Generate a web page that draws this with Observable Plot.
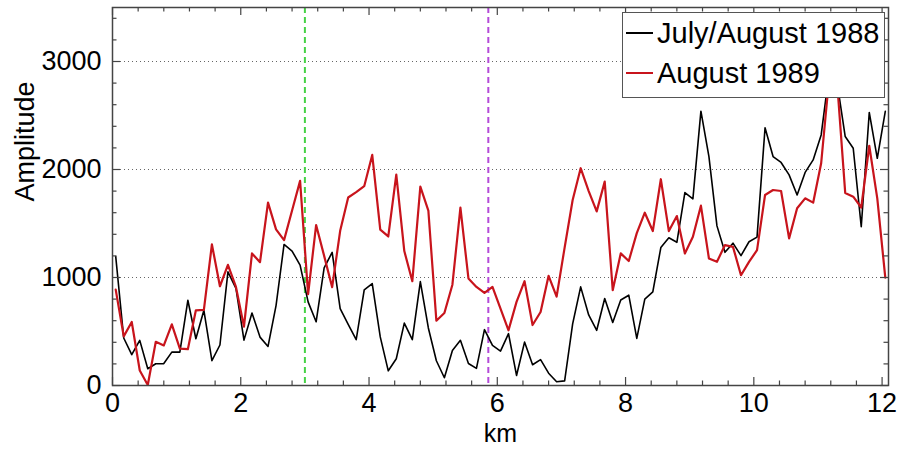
<!DOCTYPE html>
<html>
<head>
<meta charset="utf-8">
<script src="https://cdn.jsdelivr.net/npm/d3@7"></script>
<script src="https://cdn.jsdelivr.net/npm/@observablehq/plot@0.6"></script>
<style>
  html, body { margin: 0; padding: 0; background: #fff; }
  #wrap { position: relative; width: 900px; height: 455px; }
  #legend {
    position: absolute; left: 622px; top: 12px; width: 263px; height: 86px;
    background: #fff; border: 1.5px solid #555; box-sizing: border-box;
    font-family: "Liberation Sans", Arial, sans-serif;
    font-size: 29px; color: #000;
  }
  #legend .row { position: absolute; left: 3px; height: 34px; line-height: 34px;
                 display: flex; align-items: center; white-space: nowrap; }
  #legend .sw { display: inline-block; width: 27px; height: 0; border-top-width: 2px;
                border-top-style: solid; margin-right: 4px; }
</style>
</head>
<body>
<div id="wrap"></div>
<script>
// sample positions along the transect (km)
const km = [
  0.05, 0.175, 0.3, 0.425, 0.55, 0.675, 0.8, 0.925,
  1.05, 1.175, 1.3, 1.425, 1.55, 1.675, 1.8, 1.925,
  2.05, 2.175, 2.3, 2.425, 2.55, 2.675, 2.8, 2.925,
  3.05, 3.175, 3.3, 3.425, 3.55, 3.675, 3.8, 3.925,
  4.05, 4.175, 4.3, 4.425, 4.55, 4.675, 4.8, 4.925,
  5.05, 5.175, 5.3, 5.425, 5.55, 5.675, 5.8, 5.925,
  6.05, 6.175, 6.3, 6.425, 6.55, 6.675, 6.8, 6.925,
  7.05, 7.175, 7.3, 7.425, 7.55, 7.675, 7.8, 7.925,
  8.05, 8.175, 8.3, 8.425, 8.55, 8.675, 8.8, 8.925,
  9.05, 9.175, 9.3, 9.425, 9.55, 9.675, 9.8, 9.925,
  10.05, 10.175, 10.3, 10.425, 10.55, 10.675, 10.8, 10.925,
  11.05, 11.175, 11.3, 11.425, 11.55, 11.675, 11.8, 11.925,
  12.05
];

// July/August 1988 (black)
const amp1988 = [
  1195, 440, 285, 418, 155, 201, 203, 309,
  309, 789, 433, 696, 230, 375, 1052, 900,
  420, 671, 448, 362, 740, 1306, 1245, 1114,
  774, 590, 1090, 1233, 712, 565, 424, 885,
  944, 450, 136, 248, 578, 424, 962, 533,
  229, 72, 325, 418, 204, 158, 517, 371,
  318, 480, 93, 402, 192, 240, 114, 35,
  43, 570, 913, 653, 511, 805, 583, 792,
  836, 436, 800, 866, 1277, 1368, 1326, 1786,
  1728, 2540, 2120, 1478, 1233, 1318, 1203, 1331,
  1374, 2386, 2120, 2065, 1950, 1764, 1973, 2089,
  2320, 2900, 2800, 2305, 2197, 1470, 2528, 2104,
  2538
];

// August 1989 (red)
const amp1989 = [
  888, 455, 588, 139, 5, 405, 371, 566,
  341, 336, 696, 700, 1306, 919, 1117, 913,
  545, 1223, 1142, 1693, 1446, 1346, 1620, 1895,
  845, 1486, 1200, 910, 1432, 1741, 1790, 1845,
  2135, 1443, 1380, 1953, 1245, 966, 1841, 1620,
  600, 671, 933, 1648, 991, 913, 857, 913,
  712, 511, 774, 966, 560, 681, 1016, 823,
  1277, 1718, 2012, 1800, 1612, 1888, 882, 1223,
  1153, 1411, 1600, 1430, 1910, 1430, 1569, 1223,
  1377, 1665, 1176, 1145, 1300, 1284, 1021, 1145,
  1253, 1764, 1810, 1801, 1362, 1641, 1733, 1693,
  2058, 2850, 2800, 1783, 1748, 1648, 2220, 1733,
  998
];

const seriesNames = ["July/August 1988", "August 1989"];
const seriesColors = ["#000000", "#c8141c"];

const xMajor = [0, 2, 4, 6, 8, 10, 12];
const xMinor = [0.4, 0.8, 1.2, 1.6, 2.4, 2.8, 3.2, 3.6, 4.4, 4.8, 5.2, 5.6, 6.4, 6.8, 7.2, 7.6,
                8.4, 8.8, 9.2, 9.6, 10.4, 10.8, 11.2, 11.6];
const yMajor = [0, 1000, 2000, 3000];
const yMinor = [200, 400, 600, 800, 1200, 1400, 1600, 1800, 2200, 2400, 2600, 2800, 3200, 3400];
const gridY = [1000, 2000, 3000];
const markerKm = [3.0, 5.86];
const markerColors = ["#46d246", "#b44ad8"];

const rows1988 = km.map((k, i) => ({km: k, v: amp1988[i]}));
const rows1989 = km.map((k, i) => ({km: k, v: amp1989[i]}));

const W = 900, H = 455, mL = 112, mR = 12, mT = 7, mB = 70;
const innerW = W - mL - mR, innerH = H - mT - mB;
const tickCol = "#444";
const font = "'Liberation Sans', Arial, sans-serif";

const chart = Plot.plot({
  width: W, height: H,
  marginLeft: mL, marginRight: mR, marginTop: mT, marginBottom: mB,
  x: {domain: [0, 12.1]},
  y: {domain: [0, 3500]},
  style: {fontFamily: font, fontSize: "27px", color: "#000", background: "#fff", overflow: "visible"},
  marks: [
    Plot.ruleY(gridY, {y: d => d, stroke: "#666", strokeWidth: 1, strokeDasharray: "1,3"}),
    Plot.ruleX([markerKm[0]], {x: d => d, stroke: markerColors[0], strokeWidth: 2, strokeDasharray: "6,4"}),
    Plot.ruleX([markerKm[1]], {x: d => d, stroke: markerColors[1], strokeWidth: 2, strokeDasharray: "6,4"}),
    Plot.lineY(rows1988, {x: "km", y: "v", stroke: seriesColors[0], strokeWidth: 1.6}),
    Plot.lineY(rows1989, {x: "km", y: "v", stroke: seriesColors[1], strokeWidth: 2.2}),
    // inward ticks, bottom & top
    Plot.ruleX(xMajor, {x: d => d, stroke: tickCol, strokeWidth: 1.2, insetTop: innerH - 8}),
    Plot.ruleX(xMajor, {x: d => d, stroke: tickCol, strokeWidth: 1.2, insetBottom: innerH - 8}),
    Plot.ruleX(xMinor, {x: d => d, stroke: tickCol, strokeWidth: 1.2, insetTop: innerH - 4.5}),
    Plot.ruleX(xMinor, {x: d => d, stroke: tickCol, strokeWidth: 1.2, insetBottom: innerH - 4.5}),
    // inward ticks, left & right
    Plot.ruleY(yMajor, {y: d => d, stroke: tickCol, strokeWidth: 1.2, insetRight: innerW - 8}),
    Plot.ruleY(yMajor, {y: d => d, stroke: tickCol, strokeWidth: 1.2, insetLeft: innerW - 8}),
    Plot.ruleY(yMinor, {y: d => d, stroke: tickCol, strokeWidth: 1.2, insetRight: innerW - 4.5}),
    Plot.ruleY(yMinor, {y: d => d, stroke: tickCol, strokeWidth: 1.2, insetLeft: innerW - 4.5}),
    Plot.frame({stroke: tickCol, strokeWidth: 1.5}),
    Plot.axisX({ticks: xMajor, tickSize: 0, tickPadding: 7, label: null, tickFormat: d => String(d)}),
    Plot.axisY({ticks: yMajor, tickSize: 0, tickPadding: 11, label: null, tickFormat: d => String(d)}),
    Plot.text(["km"], {text: d => d, frameAnchor: "bottom", dy: 56, fontSize: 25}),
    Plot.text(["Amplitude"], {text: d => d, frameAnchor: "left", dx: -87, dy: 5, rotate: -90, fontSize: 27})
  ]
});

const wrap = document.getElementById("wrap");
wrap.appendChild(chart);

const legend = document.createElement("div");
legend.id = "legend";
seriesNames.forEach((name, i) => {
  const row = document.createElement("div");
  row.className = "row";
  row.style.top = (i === 0 ? 3 : 43) + "px";
  const sw = document.createElement("span");
  sw.className = "sw";
  sw.style.borderTopColor = seriesColors[i];
  const label = document.createElement("span");
  label.textContent = name;
  row.appendChild(sw);
  row.appendChild(label);
  legend.appendChild(row);
});
wrap.appendChild(legend);
</script>
</body>
</html>
